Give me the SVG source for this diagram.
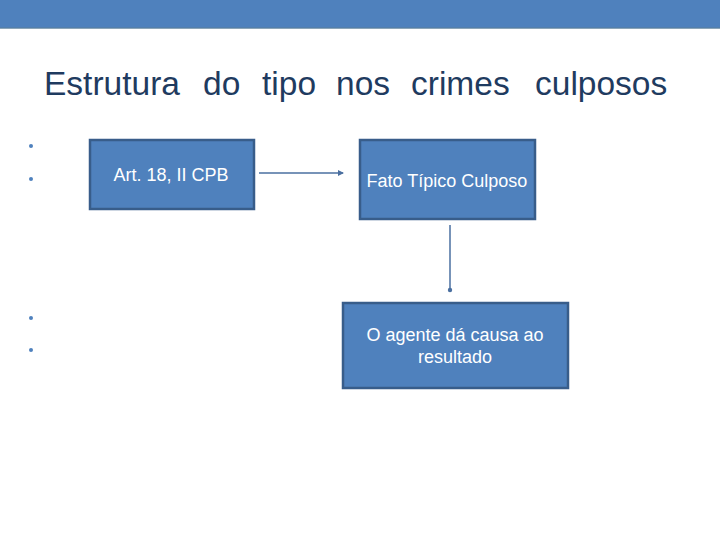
<svg xmlns="http://www.w3.org/2000/svg" width="720" height="540" viewBox="0 0 720 540">
<defs>
<style>
.box{fill:#4F81BD;stroke:#385D8A;stroke-width:2.5}
.lbl{font-family:"Liberation Sans",Arial,sans-serif;font-size:18px;fill:#FFFFFF}
.bul{fill:#4F81BD}
.con{stroke:#4A6FA0;stroke-width:1.5;fill:none}
.ttl{font-family:"Liberation Sans",Arial,sans-serif;font-size:33.5px;fill:#1F3B60}
</style>
<marker id="arr" markerWidth="6" markerHeight="6" refX="5" refY="3" orient="auto" markerUnits="userSpaceOnUse">
<path d="M0,0 L6,3 L0,6 Z" fill="#4A6FA0"/>
</marker>
<marker id="dot" markerWidth="6" markerHeight="6" refX="3" refY="3" markerUnits="userSpaceOnUse">
<circle cx="3" cy="3" r="2.2" fill="#4A6FA0"/>
</marker>
</defs>
<rect x="0" y="0" width="720" height="540" fill="#FFFFFF"/>
<rect x="0" y="0" width="720" height="28" fill="#4F81BD"/>
<rect x="0" y="27.5" width="720" height="1.2" fill="#5B7F9C"/>
<text class="ttl" y="95"><tspan x="44">Estrutura</tspan><tspan x="203">do</tspan><tspan x="262">tipo</tspan><tspan x="336">nos</tspan><tspan x="411">crimes</tspan><tspan x="535">culposos</tspan></text>
<g id="bullets">
<circle class="bul" cx="31" cy="146" r="2"/>
<circle class="bul" cx="31" cy="179" r="2"/>
<circle class="bul" cx="31" cy="318" r="2"/>
<circle class="bul" cx="31" cy="350" r="2"/>
</g>
<g id="connectors">
<line class="con" x1="259" y1="173" x2="343" y2="173" marker-end="url(#arr)"/>
<line class="con" x1="450" y1="225" x2="450" y2="290" marker-end="url(#dot)"/>
</g>
<g id="node1">
<rect class="box" x="90" y="140" width="164" height="69"/>
<text class="lbl" x="171" y="181" text-anchor="middle">Art. 18, II CPB</text>
</g>
<g id="node2">
<rect class="box" x="360" y="140" width="175" height="79"/>
<text class="lbl" x="447" y="187" text-anchor="middle">Fato Típico Culposo</text>
</g>
<g id="node3">
<rect class="box" x="343" y="303" width="225" height="85"/>
<text class="lbl" x="455" y="341" text-anchor="middle">O agente dá causa ao</text>
<text class="lbl" x="455" y="363" text-anchor="middle">resultado</text>
</g>
</svg>
